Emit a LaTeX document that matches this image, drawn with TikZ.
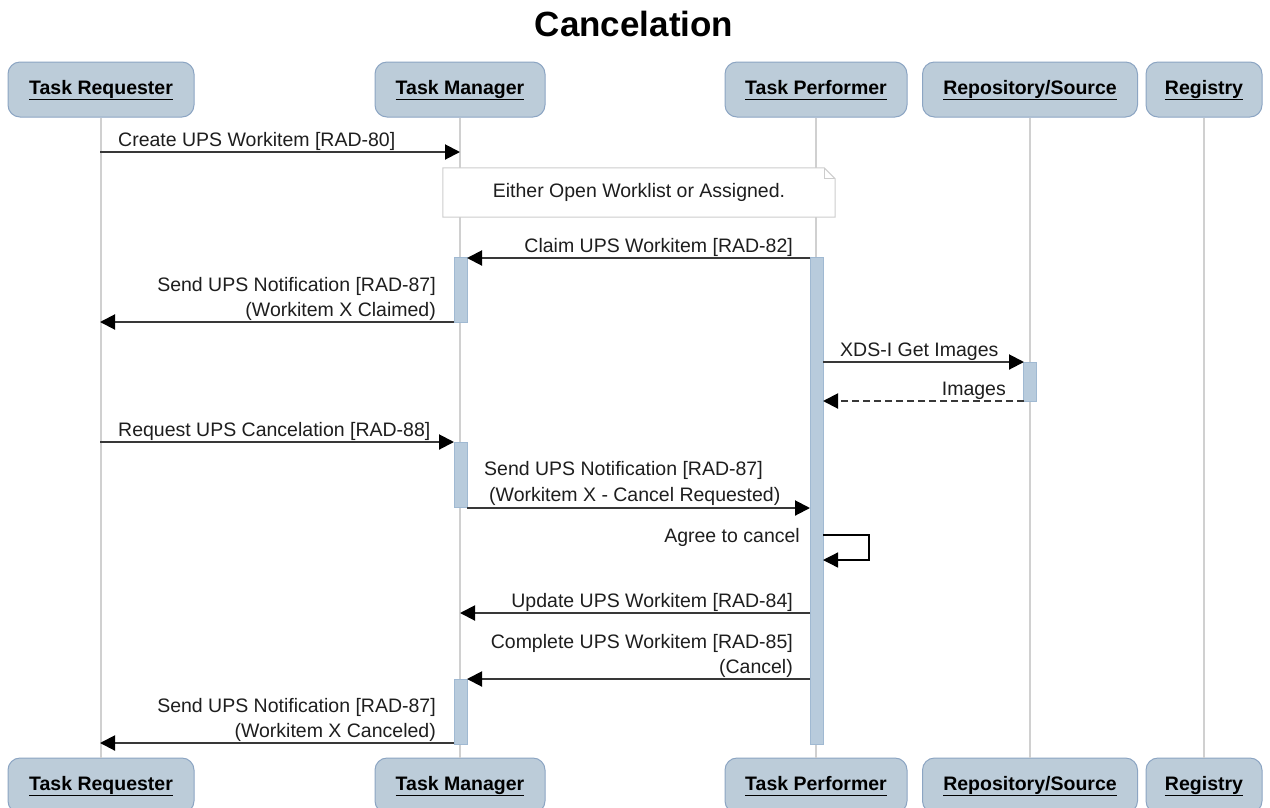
\documentclass[tikz,border=0pt]{standalone}
\usepackage{fontspec}
\setmainfont{Liberation Sans}
\usetikzlibrary{arrows.meta}
\definecolor{actfill}{RGB}{188,204,217}
\definecolor{actdraw}{RGB}{140,165,195}
\definecolor{barfill}{RGB}{184,203,220}
\definecolor{bardraw}{RGB}{160,185,210}
\definecolor{msgline}{RGB}{56,56,56}
\definecolor{lifecol}{RGB}{208,208,208}
\definecolor{txt}{RGB}{30,30,30}
\definecolor{notedraw}{RGB}{205,205,205}
\newcommand{\actlabel}[1]{\underline{\vphantom{q}#1}}
\begin{document}
\begin{tikzpicture}[x=1pt,y=-1pt,
  actor/.style={draw=actdraw, fill=actfill, line width=1pt, rounded corners=12pt,
    minimum height=55pt, inner sep=0pt, text height=14pt, text depth=5pt,
    font=\fontsize{19.5}{23}\selectfont\bfseries, text=black},
  bar/.style={draw=bardraw, fill=barfill, line width=0.8pt, minimum width=13pt, inner sep=0pt},
  life/.style={draw=lifecol, line width=1.3pt},
  msg/.style={draw=msgline, line width=2pt, -{Triangle[length=15pt,width=15pt,color=black]}},
  ret/.style={msg, dash pattern=on 7pt off 4pt},
  selfmsg/.style={draw=black, line width=1.3pt, -{Triangle[length=15pt,width=15pt,color=black]}},
  lbl/.style={inner sep=0pt, font=\fontsize{19.5}{25}\selectfont, text=txt},
  notebox/.style={draw=notedraw, fill=white, line width=1pt, line join=miter}
]
\useasboundingbox (0,0) rectangle (1270,807);
\fill[white] (0,0) rectangle (1270,807);

% title
\node[inner sep=0pt, font=\fontsize{35}{40}\selectfont\bfseries, anchor=base] (title) at (634,36) {Cancelation};

% actors top
\node[actor, minimum width=186pt] (trT) at (101,89.5) {\actlabel{Task Requester}};
\node[actor, minimum width=170pt] (tmT) at (460,89.5) {\actlabel{Task Manager}};
\node[actor, minimum width=182pt] (tpT) at (816,89.5) {\actlabel{Task Performer}};
\node[actor, minimum width=215pt] (rsT) at (1030,89.5) {\actlabel{Repository/Source}};
\node[actor, minimum width=116pt] (rgT) at (1204,89.5) {\actlabel{Registry}};
% actors bottom
\node[actor, minimum width=186pt] (trB) at (101,785.5) {\actlabel{Task Requester}};
\node[actor, minimum width=170pt] (tmB) at (460,785.5) {\actlabel{Task Manager}};
\node[actor, minimum width=182pt] (tpB) at (816,785.5) {\actlabel{Task Performer}};
\node[actor, minimum width=215pt] (rsB) at (1030,785.5) {\actlabel{Repository/Source}};
\node[actor, minimum width=116pt] (rgB) at (1204,785.5) {\actlabel{Registry}};

% lifelines
\draw[life] (trT.south) -- (trB.north);
\draw[life] (tmT.south) -- (tmB.north);
\draw[life] (tpT.south) -- (tpB.north);
\draw[life] (rsT.south) -- (rsB.north);
\draw[life] (rgT.south) -- (rgB.north);

% note
\node[inner sep=0pt, minimum width=392pt, minimum height=49pt] (note) at (639,192.5) {};
\draw[notebox] (note.north west) -- ([xshift=-11pt]note.north east) -- ([yshift=-11pt]note.north east)
  -- (note.south east) -- (note.south west) -- cycle;
\draw[notebox, fill=none] ([xshift=-11pt]note.north east) -- ([xshift=-11pt,yshift=-11pt]note.north east) -- ([yshift=-11pt]note.north east);
\node[lbl] (notetext) at (note.center) {Either Open Worklist or Assigned.};

% activation bars
\node[bar, minimum height=65pt] (tmA1) at (460.5,289.5) {};
\node[bar, minimum height=65pt] (tmA2) at (460.5,474.5) {};
\node[bar, minimum height=65pt] (tmA3) at (460.5,711.5) {};
\node[bar, minimum height=487pt] (tpA) at (816.5,500.5) {};
\node[bar, minimum height=39pt] (rsA) at (1030,381.5) {};

% message end points
\coordinate (m1s) at (100,152);  \coordinate (m1e) at (460,152);
\coordinate (m3s) at (810,258);  \coordinate (m3e) at (467,258);
\coordinate (m4s) at (454,322);  \coordinate (m4e) at (100,322);
\coordinate (m5s) at (823,362);  \coordinate (m5e) at (1024,362);
\coordinate (m6s) at (1024,401); \coordinate (m6e) at (823,401);
\coordinate (m7s) at (100,442);  \coordinate (m7e) at (454,442);
\coordinate (m8s) at (467,508);  \coordinate (m8e) at (810,508);
\coordinate (m9s) at (823,535);  \coordinate (m9a) at (869,535);
\coordinate (m9b) at (869,560);  \coordinate (m9e) at (823,560);
\coordinate (m10s) at (810,613); \coordinate (m10e) at (460,613);
\coordinate (m11s) at (810,679); \coordinate (m11e) at (467,679);
\coordinate (m12s) at (454,743); \coordinate (m12e) at (100,743);

% messages
\draw[msg] (m1s) -- (m1e);
\node[lbl, anchor=base west] (l1) at (118,146) {Create UPS Workitem [RAD-80]};

\draw[msg] (m3s) -- (m3e);
\node[lbl, anchor=base east] (l3) at (793,252) {Claim UPS Workitem [RAD-82]};

\draw[msg] (m4s) -- (m4e);
\node[lbl, anchor=base east] (l4a) at (436,291) {Send UPS Notification [RAD-87]};
\node[lbl, anchor=base east] (l4b) at (436,316) {(Workitem X Claimed)};

\draw[msg] (m5s) -- (m5e);
\node[lbl, anchor=base west] (l5) at (840,356) {XDS-I Get Images};

\draw[ret] (m6s) -- (m6e);
\node[lbl, anchor=base east] (l6) at (1006,395) {Images};

\draw[msg] (m7s) -- (m7e);
\node[lbl, anchor=base west] (l7) at (118,436) {Request UPS Cancelation [RAD-88]};

\draw[msg] (m8s) -- (m8e);
\node[lbl, anchor=base west] (l8a) at (484,475) {Send UPS Notification [RAD-87]};
\node[lbl, anchor=base west] (l8b) at (489,501) {(Workitem X - Cancel Requested)};

\draw[selfmsg] (m9s) -- (m9a) -- (m9b) -- (m9e);
\node[lbl, anchor=base east] (l9) at (800,542) {Agree to cancel};

\draw[msg] (m10s) -- (m10e);
\node[lbl, anchor=base east] (l10) at (793,607) {Update UPS Workitem [RAD-84]};

\draw[msg] (m11s) -- (m11e);
\node[lbl, anchor=base east] (l11a) at (793,648) {Complete UPS Workitem [RAD-85]};
\node[lbl, anchor=base east] (l11b) at (793,673) {(Cancel)};

\draw[msg] (m12s) -- (m12e);
\node[lbl, anchor=base east] (l12a) at (436,712) {Send UPS Notification [RAD-87]};
\node[lbl, anchor=base east] (l12b) at (436,737) {(Workitem X Canceled)};
\end{tikzpicture}
\end{document}
